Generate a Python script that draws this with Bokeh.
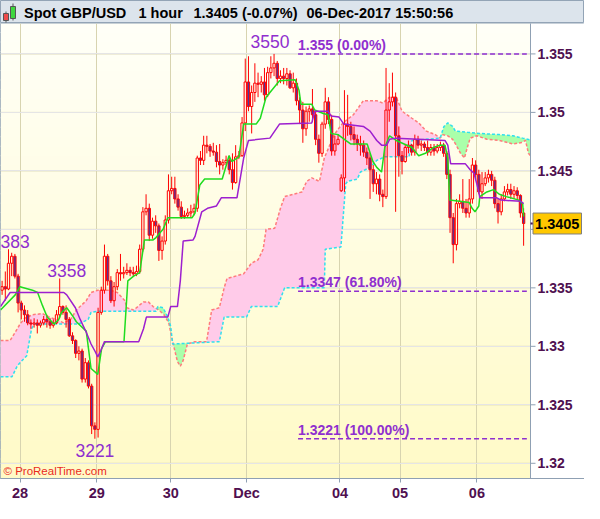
import numpy as np
from bokeh.plotting import figure
from bokeh.layouts import column
from bokeh.models import FixedTicker, Label
from bokeh.core.properties import value
from bokeh.embed import file_html
from bokeh.resources import INLINE

# ---------------- data (hourly candles, bar index 0..163) ----------------
opens = [
    1.3348, 1.3351, 1.3349, 1.3371, 1.3377, 1.3360, 1.3337, 1.3331, 1.3327, 1.3320,
    1.3319, 1.3320, 1.3318, 1.3320, 1.3323, 1.3321, 1.3318, 1.3320, 1.3327, 1.3334,
    1.3329, 1.3323, 1.3309, 1.3305, 1.3294, 1.3296, 1.3272, 1.3286, 1.3266, 1.3232,
    1.3229, 1.3329, 1.3348, 1.3377, 1.3356, 1.3339, 1.3351, 1.3363, 1.3362, 1.3363,
    1.3365, 1.3363, 1.3362, 1.3364, 1.3383, 1.3415, 1.3418, 1.3395, 1.3407, 1.3403,
    1.3382, 1.3390, 1.3408, 1.3433, 1.3435, 1.3426, 1.3419, 1.3411, 1.3412, 1.3414,
    1.3415, 1.3418, 1.3461, 1.3459, 1.3472, 1.3471, 1.3467, 1.3466, 1.3458, 1.3455,
    1.3457, 1.3459, 1.3451, 1.3440, 1.3462, 1.3463, 1.3491, 1.3526, 1.3505, 1.3517,
    1.3525, 1.3524, 1.3526, 1.3515, 1.3534, 1.3538, 1.3542, 1.3529, 1.3531, 1.3529,
    1.3533, 1.3521, 1.3525, 1.3510, 1.3502, 1.3486, 1.3501, 1.3503, 1.3498, 1.3477,
    1.3465, 1.3490, 1.3509, 1.3494, 1.3467, 1.3473, 1.3433, 1.3444, 1.3490, 1.3488,
    1.3481, 1.3477, 1.3473, 1.3472, 1.3466, 1.3461, 1.3451, 1.3439, 1.3443, 1.3430,
    1.3428, 1.3502, 1.3509, 1.3513, 1.3480, 1.3463, 1.3458, 1.3470, 1.3472, 1.3466,
    1.3477, 1.3472, 1.3473, 1.3470, 1.3466, 1.3470, 1.3467, 1.3470, 1.3472, 1.3465,
    1.3447, 1.3410, 1.3387, 1.3422, 1.3424, 1.3418, 1.3414, 1.3426, 1.3455, 1.3447,
    1.3432, 1.3439, 1.3444, 1.3447, 1.3442, 1.3422, 1.3415, 1.3426, 1.3432, 1.3434,
    1.3430, 1.3433, 1.3429, 1.3414,
]
closes = [
    1.3351, 1.3349, 1.3371, 1.3377, 1.3360, 1.3337, 1.3331, 1.3327, 1.3320, 1.3319,
    1.3320, 1.3318, 1.3320, 1.3323, 1.3321, 1.3318, 1.3320, 1.3327, 1.3334, 1.3329,
    1.3323, 1.3309, 1.3305, 1.3294, 1.3296, 1.3272, 1.3286, 1.3266, 1.3232, 1.3229,
    1.3329, 1.3348, 1.3377, 1.3356, 1.3339, 1.3351, 1.3363, 1.3362, 1.3363, 1.3365,
    1.3363, 1.3362, 1.3364, 1.3383, 1.3415, 1.3418, 1.3395, 1.3407, 1.3403, 1.3382,
    1.3390, 1.3408, 1.3433, 1.3435, 1.3426, 1.3419, 1.3411, 1.3412, 1.3414, 1.3415,
    1.3418, 1.3461, 1.3459, 1.3472, 1.3471, 1.3467, 1.3466, 1.3458, 1.3455, 1.3457,
    1.3459, 1.3451, 1.3440, 1.3462, 1.3463, 1.3491, 1.3526, 1.3505, 1.3517, 1.3525,
    1.3524, 1.3526, 1.3515, 1.3534, 1.3538, 1.3542, 1.3529, 1.3531, 1.3529, 1.3533,
    1.3521, 1.3525, 1.3510, 1.3502, 1.3486, 1.3501, 1.3503, 1.3498, 1.3477, 1.3465,
    1.3490, 1.3509, 1.3494, 1.3467, 1.3473, 1.3477, 1.3444, 1.3490, 1.3488, 1.3481,
    1.3477, 1.3473, 1.3472, 1.3466, 1.3461, 1.3451, 1.3439, 1.3443, 1.3430, 1.3428,
    1.3502, 1.3509, 1.3513, 1.3480, 1.3463, 1.3458, 1.3470, 1.3472, 1.3466, 1.3477,
    1.3472, 1.3473, 1.3470, 1.3466, 1.3470, 1.3467, 1.3470, 1.3472, 1.3465, 1.3447,
    1.3410, 1.3387, 1.3422, 1.3424, 1.3418, 1.3414, 1.3426, 1.3455, 1.3447, 1.3432,
    1.3439, 1.3444, 1.3447, 1.3442, 1.3422, 1.3415, 1.3426, 1.3432, 1.3434, 1.3430,
    1.3433, 1.3429, 1.3414, 1.3405,
]
highs = [
    1.3356, 1.3364, 1.3383, 1.3380, 1.3379, 1.3362, 1.3339, 1.3335, 1.3331, 1.3323,
    1.3324, 1.3323, 1.3322, 1.3326, 1.3327, 1.3324, 1.3323, 1.3331, 1.3358, 1.3335,
    1.3335, 1.3325, 1.3312, 1.3306, 1.3300, 1.3298, 1.3290, 1.3288, 1.3268, 1.3235,
    1.3333, 1.3351, 1.3387, 1.3379, 1.3360, 1.3355, 1.3366, 1.3379, 1.3368, 1.3371,
    1.3368, 1.3368, 1.3369, 1.3387, 1.3419, 1.3430, 1.3422, 1.3410, 1.3412, 1.3405,
    1.3394, 1.3412, 1.3447, 1.3445, 1.3445, 1.3430, 1.3424, 1.3416, 1.3418, 1.3421,
    1.3422, 1.3463, 1.3467, 1.3480, 1.3480, 1.3473, 1.3474, 1.3472, 1.3473, 1.3460,
    1.3463, 1.3463, 1.3465, 1.3472, 1.3467, 1.3496, 1.3546, 1.3548, 1.3523, 1.3542,
    1.3534, 1.3531, 1.3538, 1.3539, 1.3548, 1.3550, 1.3544, 1.3536, 1.3538, 1.3538,
    1.3536, 1.3534, 1.3529, 1.3513, 1.3509, 1.3505, 1.3506, 1.3520, 1.3501, 1.3481,
    1.3492, 1.3521, 1.3513, 1.3498, 1.3480, 1.3481, 1.3447, 1.3519, 1.3515, 1.3492,
    1.3488, 1.3481, 1.3480, 1.3476, 1.3470, 1.3465, 1.3455, 1.3449, 1.3447, 1.3434,
    1.3538, 1.3525, 1.3534, 1.3517, 1.3488, 1.3467, 1.3473, 1.3476, 1.3473, 1.3481,
    1.3480, 1.3476, 1.3475, 1.3476, 1.3473, 1.3473, 1.3473, 1.3475, 1.3474, 1.3467,
    1.3451, 1.3414, 1.3426, 1.3430, 1.3443, 1.3426, 1.3443, 1.3461, 1.3459, 1.3451,
    1.3449, 1.3449, 1.3451, 1.3450, 1.3445, 1.3426, 1.3430, 1.3437, 1.3439, 1.3439,
    1.3437, 1.3436, 1.3430, 1.3418,
]
lows = [
    1.3344, 1.3339, 1.3348, 1.3360, 1.3358, 1.3329, 1.3323, 1.3321, 1.3318, 1.3315,
    1.3316, 1.3311, 1.3316, 1.3318, 1.3316, 1.3315, 1.3316, 1.3319, 1.3324, 1.3327,
    1.3316, 1.3308, 1.3302, 1.3290, 1.3288, 1.3269, 1.3269, 1.3264, 1.3225, 1.3221,
    1.3222, 1.3327, 1.3345, 1.3352, 1.3337, 1.3334, 1.3348, 1.3356, 1.3358, 1.3361,
    1.3360, 1.3360, 1.3360, 1.3362, 1.3381, 1.3412, 1.3390, 1.3392, 1.3397, 1.3373,
    1.3374, 1.3387, 1.3405, 1.3430, 1.3422, 1.3416, 1.3409, 1.3409, 1.3410, 1.3410,
    1.3412, 1.3415, 1.3455, 1.3455, 1.3465, 1.3462, 1.3463, 1.3453, 1.3447, 1.3451,
    1.3455, 1.3447, 1.3434, 1.3439, 1.3460, 1.3462, 1.3484, 1.3501, 1.3482, 1.3509,
    1.3513, 1.3517, 1.3510, 1.3513, 1.3529, 1.3531, 1.3523, 1.3525, 1.3524, 1.3523,
    1.3520, 1.3517, 1.3506, 1.3490, 1.3474, 1.3480, 1.3492, 1.3492, 1.3472, 1.3457,
    1.3462, 1.3486, 1.3490, 1.3463, 1.3463, 1.3472, 1.3432, 1.3432, 1.3480, 1.3476,
    1.3472, 1.3467, 1.3463, 1.3462, 1.3455, 1.3426, 1.3432, 1.3430, 1.3424, 1.3419,
    1.3426, 1.3492, 1.3505, 1.3415, 1.3445, 1.3447, 1.3457, 1.3465, 1.3463, 1.3463,
    1.3469, 1.3467, 1.3467, 1.3463, 1.3463, 1.3463, 1.3465, 1.3467, 1.3462, 1.3443,
    1.3397, 1.3371, 1.3382, 1.3418, 1.3414, 1.3410, 1.3410, 1.3422, 1.3443, 1.3430,
    1.3426, 1.3437, 1.3440, 1.3437, 1.3418, 1.3405, 1.3412, 1.3424, 1.3429, 1.3426,
    1.3426, 1.3425, 1.3410, 1.3386,
]

# Ichimoku lines (bar-index, price)
tenkan_x = [-0.5, 4.1, 5.6, 9.5, 11.1, 12.6, 14.1, 16.2, 17.7, 18.6, 20.2, 22.3, 23.2, 26.3, 27.8,
            29.9, 31.1, 32.3, 38.1, 39.3, 41.1, 43.0, 44.5, 47.2, 48.1, 50.3, 51.8, 59.4, 60.3, 61.8,
            63.3, 68.8, 70.3, 70.9, 71.8, 74.0, 75.5, 79.4, 80.7, 82.5, 86.7, 91.6, 92.8, 93.4, 96.8,
            97.7, 100.4, 101.9, 102.8, 105.0, 107.4, 108.9, 114.1, 115.9, 117.1, 118.6, 119.6, 121.1,
            123.2, 128.1, 130.2, 132.3, 134.8, 136.9, 138.4, 139.3, 139.9, 146.0, 146.9, 147.8, 149.0,
            149.3, 151.5, 153.6, 155.4, 157.6, 161.5, 162.7, 163.0]
tenkan_y = [1.3331, 1.3344, 1.3351, 1.3348, 1.3346, 1.3335, 1.3325, 1.3319, 1.3323, 1.3329, 1.3333,
            1.3325, 1.3321, 1.3313, 1.3281, 1.3276, 1.3298, 1.3304, 1.3304, 1.3356, 1.3360, 1.3363,
            1.3391, 1.3391, 1.3393, 1.3400, 1.3410, 1.3410, 1.3414, 1.3438, 1.3443, 1.3443, 1.3457,
            1.3463, 1.3458, 1.3462, 1.3490, 1.3490, 1.3495, 1.3513, 1.3527, 1.3528, 1.3519, 1.3507,
            1.3507, 1.3502, 1.3499, 1.3498, 1.3482, 1.3481, 1.3476, 1.3473, 1.3473, 1.3458, 1.3453,
            1.3449, 1.3470, 1.3480, 1.3476, 1.3470, 1.3463, 1.3465, 1.3470, 1.3472, 1.3472, 1.3461,
            1.3425, 1.3423, 1.3418, 1.3415, 1.3420, 1.3428, 1.3432, 1.3434, 1.3430, 1.3428, 1.3425,
            1.3422, 1.3411]
kijun_x = [-0.5, 2.5, 19.3, 20.2, 22.9, 24.4, 26.3, 27.8, 29.0, 29.9, 30.8, 32.0, 42.7, 44.2, 45.1,
           51.8, 52.7, 54.8, 55.7, 56.6, 59.7, 60.3, 62.4, 64.2, 67.0, 68.5, 73.4, 75.5, 77.0, 83.7,
           86.7, 96.8, 97.7, 101.9, 102.8, 105.3, 106.8, 112.9, 115.0, 117.1, 118.6, 120.2, 121.1,
           123.2, 138.4, 139.3, 140.2, 144.8, 146.3, 147.5, 149.0, 149.3, 154.5, 156.0, 162.1, 163.0]
kijun_y = [1.3334, 1.3346, 1.3346, 1.3344, 1.3333, 1.3323, 1.3312, 1.3302, 1.3296, 1.3291, 1.3296,
           1.3304, 1.3304, 1.3315, 1.3325, 1.3325, 1.3334, 1.3334, 1.3356, 1.3390, 1.3391, 1.3394,
           1.3415, 1.3418, 1.3420, 1.3427, 1.3427, 1.3461, 1.3476, 1.3478, 1.3490, 1.3491, 1.3501,
           1.3501, 1.3497, 1.3496, 1.3490, 1.3488, 1.3484, 1.3476, 1.3472, 1.3472, 1.3477, 1.3478,
           1.3476, 1.3472, 1.3456, 1.3456, 1.3451, 1.3448, 1.3432, 1.3427, 1.3427, 1.3425, 1.3424,
           1.3422]
spanA_x = [-0.5, 2.5, 4.1, 5.6, 7.1, 9.5, 12.6, 14.7, 16.8, 19.3, 21.4, 23.2, 26.3, 27.8, 29.9, 33.8,
           36.0, 38.4, 39.0, 41.1, 44.2, 45.7, 47.2, 49.0, 50.6, 52.1, 53.3, 54.8, 55.7, 56.6, 57.9,
           60.3, 63.9, 65.5, 67.9, 69.4, 70.3, 75.5, 77.9, 80.0, 81.6, 82.5, 85.2, 87.0, 88.3, 93.7,
           95.2, 96.8, 99.2, 99.8, 100.7, 103.8, 106.5, 109.8, 112.9, 117.1, 119.0, 121.1, 123.2,
           125.0, 128.1, 130.2, 132.6, 135.4, 136.9, 137.8, 139.3, 140.8, 141.7, 143.3, 144.5, 145.4,
           146.3, 148.4, 151.5, 155.4, 159.7, 162.1, 163.6, 164.5, 165.8]
spanA_y = [1.3305, 1.3305, 1.3312, 1.3319, 1.3324, 1.3327, 1.3328, 1.3325, 1.3323, 1.3320, 1.3323,
           1.3331, 1.3339, 1.3346, 1.3348, 1.3348, 1.3346, 1.3339, 1.3333, 1.3331, 1.3338, 1.3338,
           1.3334, 1.3331, 1.3327, 1.3320, 1.3304, 1.3287, 1.3283, 1.3288, 1.3302, 1.3304, 1.3304,
           1.3331, 1.3333, 1.3350, 1.3358, 1.3362, 1.3371, 1.3374, 1.3383, 1.3400, 1.3401, 1.3418,
           1.3428, 1.3432, 1.3441, 1.3444, 1.3441, 1.3449, 1.3461, 1.3481, 1.3491, 1.3498, 1.3510,
           1.3510, 1.3508, 1.3513, 1.3513, 1.3501, 1.3495, 1.3491, 1.3484, 1.3481, 1.3478, 1.3481,
           1.3480, 1.3477, 1.3473, 1.3465, 1.3461, 1.3470, 1.3478, 1.3480, 1.3477, 1.3476, 1.3473,
           1.3474, 1.3476, 1.3465, 1.3461]
spanB_x = [-0.5, 3.1, 4.7, 5.6, 7.7, 9.2, 10.1, 23.8, 26.9, 27.8, 29.9, 48.1, 48.7, 50.3, 51.8, 52.7,
           53.3, 67.9, 69.4, 76.4, 77.9, 86.1, 88.3, 100.7, 101.0, 105.9, 107.4, 108.0, 111.0, 112.0,
           115.0, 117.1, 119.6, 127.2, 128.1, 136.9, 138.1, 139.3, 140.8, 141.7, 145.4, 149.3, 155.4,
           159.7, 162.7, 165.8]
spanB_y = [1.3274, 1.3274, 1.3283, 1.3286, 1.3292, 1.3315, 1.3319, 1.3319, 1.3323, 1.3329, 1.3330,
           1.3330, 1.3334, 1.3333, 1.3325, 1.3317, 1.3302, 1.3304, 1.3325, 1.3325, 1.3334, 1.3334,
           1.3350, 1.3350, 1.3383, 1.3385, 1.3439, 1.3441, 1.3443, 1.3449, 1.3453, 1.3459, 1.3462,
           1.3462, 1.3476, 1.3478, 1.3488, 1.3491, 1.3488, 1.3484, 1.3483, 1.3482, 1.3481, 1.3480,
           1.3478, 1.3476]

# Fibonacci retracement levels and swing labels
fib_levels = [1.355, 1.3347, 1.3221]
fib_texts = ["1.355 (0.00%)", "1.3347 (61.80%)", "1.3221 (100.00%)"]
swing_texts = ["383", "3358", "3550", "3221"]
swing_x = [4.1, 20.2, 83.7, 29.0]
swing_y = [1.3390, 1.3365, 1.3561, 1.3211]

# axis ticks
xtick_pos = [5.6, 29.6, 52.7, 76.4, 105.6, 124.4, 148.4]
xtick_labels = ["28", "29", "30", "Dec", "04", "05", "06"]
ytick_labels = ["1.32", "1.325", "1.33", "1.335", "1.34", "1.345", "1.35", "1.355"]

title_parts = ["Spot GBP/USD", "1 hour", "1.3405 (-0.07%)", "06-Dec-2017 15:50:56"]
last_price = 1.3405
last_text = "1.3405"

# ---------------- styling ----------------
FONT = "Liberation Sans"
PURPLE = "#8f2fcf"
AXIS_TXT = "#4f1050"
EDGE = "#8fa0b3"
GRID = "#d8d4b0"

W, H = 584, 480
PLOT_W, AXIS_W = 530, 54          # chart area + price-scale strip
FRAME_H = 456
X0, X1 = -0.5, 165.15             # chart area in bar units
X2 = X1 + AXIS_W * (X1 - X0) / PLOT_W
Y0, Y1 = 1.3187, 1.3576
ux = (X2 - X0) / W                # bar units per pixel
uy = (Y1 - Y0) / FRAME_H          # price units per pixel

o = np.array(opens); c = np.array(closes); h = np.array(highs); l = np.array(lows)
bx = np.arange(len(c))
btop = np.maximum(o, c); bbot = np.minimum(o, c)
up = c >= o
yticks = [float(s) for s in ytick_labels]

p = figure(width=W, height=H, x_range=(X0, X2), y_range=(Y0, Y1),
           y_axis_location=None, toolbar_location=None, output_backend="svg",
           min_border_left=0, min_border_top=0, min_border_right=0, min_border_bottom=24)
p.background_fill_color = "#fffde4"
p.border_fill_color = "white"
p.outline_line_color = EDGE

# soft vertical gradient for the chart area
nb = 48
edges = np.linspace(Y0, Y1, nb + 1)
cols = []
for k in range(nb):
    t = (k + 0.5) / nb
    g = int(round(250 + 5 * t)); b = int(round(198 + 50 * t))
    cols.append("#ff%02x%02x" % (g, b))
p.quad(left=X0, right=X1, bottom=edges[:-1], top=edges[1:] + (Y1 - Y0) / nb * 0.1,
       fill_color=cols, line_color=None, level="image")
p.segment(x0=X0, y0=yticks, x1=X1, y1=yticks, line_color=GRID, line_width=1, level="underlay")

# cloud
gx = np.linspace(-0.5, X1, 2500)
A = np.interp(gx, spanA_x, spanA_y)
B = np.interp(gx, spanB_x, spanB_y)
hi = np.maximum(A, B)
p.varea(x=gx, y1=B, y2=hi, fill_color="#ffcbe9")
p.varea(x=gx, y1=A, y2=hi, fill_color="#aaffaa")
p.line(spanA_x, spanA_y, line_color="#ff7b7b", line_dash="3 2", line_width=1.5)
p.line(spanB_x, spanB_y, line_color="#2fe0ee", line_dash="3 2", line_width=1.5)

# candles
p.segment(x0=bx, y0=h, x1=bx, y1=btop, line_color="#ff0000", line_width=1)
p.segment(x0=bx, y0=bbot, x1=bx, y1=l, line_color="#ff0000", line_width=1)
p.vbar(x=bx[up], width=0.72, top=btop[up], bottom=bbot[up],
       fill_color=None, line_color="#ff0000", line_width=1)
p.vbar(x=bx[~up], width=0.72, top=btop[~up], bottom=bbot[~up],
       fill_color="#553399", line_color="#ff0000", line_width=1)

# tenkan / kijun
p.line(tenkan_x, tenkan_y, line_color="#1fdc1f", line_width=1.5)
p.line(kijun_x, kijun_y, line_color="#9d1fcf", line_width=1.5)

# fibonacci
p.segment(x0=92.5, y0=fib_levels, x1=164.0, y1=fib_levels,
          line_color=PURPLE, line_dash="5 3", line_width=1.5)
p.text(x=92.5, y=fib_levels, text=fib_texts, text_baseline="bottom", y_offset=-1,
       text_font=value(FONT), text_font_style="bold", text_font_size="14px", text_color=PURPLE)

# swing labels
p.text(x=swing_x, y=swing_y, text=swing_texts, text_align="center", text_baseline="middle",
       text_font=value(FONT), text_font_size="17.5px", text_color=PURPLE)

# ---- price scale strip on the right ----
p.quad(left=X1, right=X2 + 1, bottom=Y0 - 1, top=Y1 + 1, fill_color="white", line_color=None)
p.segment(x0=X1, y0=Y0 - 1, x1=X1, y1=Y1 + 1, line_color=EDGE, line_width=1)
p.segment(x0=X1, y0=yticks, x1=X1 + 5 * ux, y1=yticks, line_color=EDGE, line_width=1)
p.text(x=X1 + 7 * ux, y=yticks, text=ytick_labels, text_baseline="middle",
       text_font=value(FONT), text_font_style="bold", text_font_size="14px", text_color=AXIS_TXT)
p.segment(x0=X1, y0=last_price, x1=X1 + 3 * ux, y1=last_price, line_color="#4a1a5a", line_width=2)
p.quad(left=X1 + 2.5 * ux, right=X1 + 51 * ux, bottom=last_price - 10.5 * uy,
       top=last_price + 10.5 * uy, fill_color="#ffc800", line_color="#7f7f7f", line_width=1)
p.text(x=X1 + 26.75 * ux, y=last_price, text=[last_text], text_align="center",
       text_baseline="middle", text_font=value(FONT), text_font_style="bold",
       text_font_size="14.5px", text_color="black")

# bottom (time) axis
p.xaxis.ticker = FixedTicker(ticks=xtick_pos)
p.xaxis.major_label_overrides = {t: s for t, s in zip(xtick_pos, xtick_labels)}
ax = p.xaxis[0]
ax.major_label_text_font = FONT
ax.major_label_text_font_style = "bold"
ax.major_label_text_color = AXIS_TXT
ax.major_label_text_font_size = "14.5px"
ax.axis_line_color = EDGE
ax.major_tick_line_color = EDGE
ax.minor_tick_line_color = None
ax.major_tick_in = 0
ax.major_tick_out = 4
ax.major_label_standoff = 2
p.xgrid.grid_line_color = GRID

p.add_layout(Label(x=3, y=2, x_units="screen", y_units="screen", text="\u00a9 ProRealTime.com",
                   text_font=FONT, text_font_size="11.5px", text_color="#ea2a1e",
                   text_baseline="bottom"))

# header bar
hd = figure(width=W, height=23, x_range=(0, W), y_range=(0, 23), toolbar_location=None,
            output_backend="svg", x_axis_location=None, y_axis_location=None, min_border=0)
hd.grid.visible = False
hd.background_fill_color = "#dce4ec"
hd.border_fill_color = "#dce4ec"
hd.outline_line_color = "#93a4b6"
hd.segment(x0=[5.5, 12.5], y0=[1, 3], x1=[5.5, 12.5], y1=[12, 20], line_color="#555555")
hd.quad(left=[3, 10], right=[8, 15], bottom=[3, 5], top=[10, 17],
        fill_color=["#ee4c4c", "#3ed63e"], line_color="#555555")
hd.text(x=[23.5, 138, 193, 306], y=11, text=title_parts, text_baseline="middle",
        text_font=value(FONT), text_font_style="bold", text_font_size="14.5px", text_color="black")

layout = column(hd, p, spacing=0)
open("out.html", "w").write(file_html(layout, INLINE))
